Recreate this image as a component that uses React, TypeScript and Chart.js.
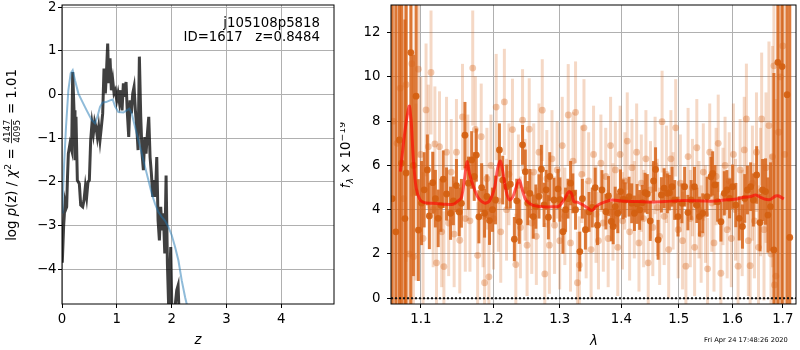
import React, { useEffect, useRef } from 'react';
import { Chart, registerables } from 'chart.js';

Chart.register(...registerables);

const FAM = '"DejaVu Sans", Verdana, sans-serif';
const FS = 13.3;
const SMALL = 9.3;

// ---------------- Left panel: log p(z) ----------------
const zTicks = [0, 1, 2, 3, 4];
const lnpTicks = [-4, -3, -2, -1, 0, 1, 2];

const zGrid = [
  0.005, 0.03, 0.055, 0.07, 0.085, 0.1, 0.116, 0.146, 0.176, 0.195,
  0.219, 0.237, 0.255, 0.28, 0.316, 0.341, 0.377, 0.401, 0.426, 0.45,
  0.474, 0.499, 0.523, 0.547, 0.572, 0.596, 0.62, 0.645, 0.669, 0.693,
  0.718, 0.742, 0.766, 0.791, 0.815, 0.833, 0.852, 0.876, 0.9, 0.925,
  0.949, 0.973, 0.998, 1.022, 1.046, 1.071, 1.095, 1.119, 1.144, 1.168,
  1.192, 1.217, 1.241, 1.265, 1.29, 1.314, 1.338, 1.363, 1.387, 1.411,
  1.436, 1.46, 1.484, 1.509, 1.533, 1.557, 1.582, 1.606, 1.63, 1.655,
  1.679, 1.703, 1.728, 1.752, 1.776, 1.8, 1.825, 1.849, 1.874, 1.898,
  1.922, 1.946, 1.983, 2.007, 2.062, 2.092, 2.117, 2.135, 2.2, 2.4,
];
const logPz = [
  -3.85, -3.0, -2.5, -2.62, -2.57, -1.9, -1.35, -1.12, -1.27, 0.52,
  -0.36, -1.5, -0.51, -1.96, -2.04, -2.53, -2.57, -2.42, -2.11, -2.34,
  -2.0, -1.96, -1.04, -0.66, -0.89, -0.62, -0.74, -0.97, -0.74, -1.04,
  -0.74, -0.43, 0.6, 0.03, 0.64, 1.17, 0.26, 0.83, 0.1, 0.33,
  0.03, 0.1, -0.13, 0.03, -0.17, 0.1, -0.36, 0.26, -0.05, 0.29,
  -0.43, -0.97, -0.13, -0.43, 0.03, 0.18, -0.36, -0.74, -1.27, 0.87,
  -0.51, -1.35, -1.73, -0.97, -1.35, -0.89, -0.51, -1.43, -1.81, -2.34,
  -1.96, -2.34, -1.43, -2.88, -3.34, -2.57, -3.11, -2.72, -3.64, -1.85,
  -3.87, -4.9, -3.49, -5.2, -4.85, -4.48, -4.37, -5.0, -6.5, -9.0,
];

const zSmooth = [
  0.0, 0.012, 0.036, 0.073, 0.116, 0.158, 0.195, 0.237, 0.298, 0.359,
  0.45, 0.541, 0.602, 0.645, 0.693, 0.742, 0.803, 0.876, 0.925, 0.967,
  1.028, 1.119, 1.18, 1.229, 1.271, 1.332, 1.393, 1.454, 1.515, 1.576,
  1.637, 1.697, 1.758, 1.819, 1.88, 1.94, 2.001, 2.062, 2.123, 2.184,
  2.245, 2.288, 2.4,
];
const logPzSmooth = [
  -2.7, -2.5, -1.66, -0.74, 0.1, 0.49, 0.56, 0.33, 0.03, -0.13,
  -0.36, -0.58, -0.66, -0.51, -0.28, -0.18, -0.17, -0.13, -0.11, -0.27,
  -0.4, -0.41, -0.36, -0.32, -0.43, -0.74, -1.04, -1.35, -1.66, -1.96,
  -2.27, -2.5, -2.69, -2.8, -2.89, -3.03, -3.22, -3.49, -3.8, -4.26,
  -4.64, -4.87, -5.9,
];

// ---------------- Right panel: spectrum ----------------
const waveTicks = [1.1, 1.2, 1.3, 1.4, 1.5, 1.6, 1.7];
const fluxTicks = [0, 2, 4, 6, 8, 10, 12];
const waveLimits = [1.0613, 1.7272];
const zeroLevel = [0, 0];

const darkWave = [
  1.0628, 1.0675, 1.072, 1.0747, 1.0792, 1.0808, 1.0869, 1.0903, 1.0938, 1.0968,
  1.101, 1.1045, 1.1087, 1.1114, 1.1159, 1.1195, 1.1233, 1.127, 1.1301, 1.1346,
  1.1401, 1.144, 1.1482, 1.152, 1.1551, 1.16, 1.1648, 1.1694, 1.173, 1.176,
  1.1796, 1.1835, 1.1877, 1.191, 1.1948, 1.199, 1.2034, 1.2091, 1.2139, 1.2197,
  1.2251, 1.231, 1.2345, 1.2383, 1.2432, 1.2473, 1.251, 1.2542, 1.2593, 1.2632,
  1.268, 1.2717, 1.2758, 1.279, 1.2824, 1.2845, 1.2911, 1.2973, 1.3004, 1.3051,
  1.3092, 1.313, 1.3171, 1.3207, 1.325, 1.3318, 1.336, 1.3408, 1.3466, 1.3519,
  1.3567, 1.3604, 1.3677, 1.3742, 1.3786, 1.3831, 1.3864, 1.3897, 1.3941, 1.3986,
  1.4031, 1.4064, 1.4131, 1.4176, 1.4222, 1.4267, 1.4312, 1.4358, 1.4405, 1.4444,
  1.4495, 1.4553, 1.4588, 1.4633, 1.4691, 1.4739, 1.4797, 1.4833, 1.488, 1.4928,
  1.4987, 1.5058, 1.5107, 1.5166, 1.5226, 1.5287, 1.533, 1.5379, 1.544, 1.552,
  1.5594, 1.5625, 1.5668, 1.5719, 1.5781, 1.5845, 1.5895, 1.5946, 1.6003, 1.6066,
  1.6131, 1.6195, 1.624, 1.6292, 1.6356, 1.6409, 1.6474, 1.654, 1.6592, 1.6651,
  1.6699, 1.6751, 1.6819, 1.6899, 1.6986, 1.7088, 1.7143,
];
const darkFlux = [
  4.5, 3.0, 7.15, 6.1, 3.6, 5.66, 11.1, 6.0, 9.13, 3.08,
  4.3, 4.9, 5.8, 3.72, 5.22, 4.5, 3.61, 4.2, 5.38, 4.71,
  3.84, 4.4, 5.09, 3.9, 4.29, 7.37, 5.2, 6.25, 5.5, 6.47,
  3.68, 5.0, 3.84, 4.6, 3.51, 4.0, 4.44, 6.7, 5.34, 5.04,
  5.15, 2.67, 4.4, 3.46, 6.93, 5.72, 4.3, 4.74, 3.69, 4.14,
  4.6, 5.83, 4.22, 4.9, 3.66, 5.5, 4.44, 4.94, 4.46, 3.01,
  4.0, 4.5, 5.2, 4.74, 4.0, 2.11, 4.5, 3.1, 3.9, 4.1,
  5.0, 3.3, 4.89, 3.91, 4.62, 3.47, 3.24, 4.14, 3.84, 4.82,
  4.47, 4.44, 4.59, 4.29, 3.84, 4.26, 3.99, 4.32, 4.77, 4.71,
  3.49, 5.3, 5.82, 2.64, 4.67, 4.97, 4.74, 4.77, 5.04, 4.44,
  3.69, 4.29, 5.04, 3.87, 4.44, 5.04, 4.2, 3.69, 3.84, 4.59,
  5.49, 5.64, 5.12, 4.36, 3.46, 4.74, 4.89, 4.51, 5.04, 4.21,
  3.61, 3.24, 4.51, 4.89, 5.04, 4.44, 5.57, 3.42, 4.89, 4.82,
  3.76, 4.14, 2.18, 10.66, 10.47, 9.2, 2.75,
];
const darkErr = [
  14, 14, 12, 10, 9, 9, 13, 5, 4.5, 2.3,
  1.9, 1.7, 1.6, 1.5, 1.4, 1.3, 1.3, 1.2, 1.3, 1.2,
  1.2, 1.1, 1.2, 1.1, 1.1, 1.5, 1.2, 1.3, 1.1, 1.2,
  1.2, 1.1, 1.1, 1.0, 1.1, 1.0, 1.1, 1.2, 1.1, 1.0,
  1.1, 1.0, 1.0, 1.0, 0.9, 1.0, 1.0, 1.1, 1.0, 1.0,
  1.0, 1.1, 1.0, 0.9, 1.0, 1.1, 1.0, 0.9, 1.0, 1.0,
  1.0, 0.9, 1.0, 0.9, 0.9, 0.9, 0.9, 0.9, 0.9, 0.9,
  0.9, 0.9, 0.9, 0.8, 0.9, 0.9, 0.8, 0.9, 0.9, 1.0,
  0.9, 0.8, 0.9, 0.9, 0.8, 0.9, 0.9, 0.8, 0.9, 0.9,
  0.9, 0.9, 1.0, 0.9, 0.8, 0.9, 0.9, 0.8, 0.9, 0.9,
  0.9, 0.9, 0.9, 0.8, 0.9, 0.9, 0.8, 0.9, 0.9, 0.9,
  0.9, 1.0, 0.9, 0.9, 0.9, 1.0, 0.9, 0.9, 1.0, 1.0,
  1.0, 1.0, 1.1, 1.1, 1.1, 1.2, 1.3, 1.3, 1.4, 1.5,
  1.7, 2.0, 8, 14, 12, 14, 14,
];

const lightWave = [
  1.064, 1.069, 1.0732, 1.0775, 1.0808, 1.085, 1.0882, 1.0903, 1.0935, 1.0968,
  1.1, 1.103, 1.107, 1.11, 1.1136, 1.1165, 1.1188, 1.121, 1.125, 1.128,
  1.131, 1.1346, 1.1375, 1.141, 1.145, 1.1482, 1.1528, 1.1566, 1.1605, 1.164,
  1.167, 1.1709, 1.1746, 1.1778, 1.1829, 1.1855, 1.1877, 1.191, 1.1939, 1.1968,
  1.2005, 1.2044, 1.2075, 1.211, 1.2163, 1.2195, 1.223, 1.2282, 1.2332, 1.237,
  1.24, 1.2432, 1.247, 1.25, 1.2532, 1.257, 1.26, 1.264, 1.268, 1.273,
  1.2769, 1.28, 1.284, 1.288, 1.292, 1.296, 1.3, 1.304, 1.308, 1.3134,
  1.317, 1.321, 1.325, 1.328, 1.331, 1.335, 1.3385, 1.342, 1.346, 1.35,
  1.354, 1.358, 1.362, 1.366, 1.37, 1.374, 1.378, 1.382, 1.386, 1.39,
  1.394, 1.398, 1.402, 1.406, 1.41, 1.414, 1.418, 1.422, 1.426, 1.43,
  1.434, 1.438, 1.442, 1.446, 1.45, 1.454, 1.458, 1.462, 1.466, 1.4703,
  1.474, 1.478, 1.482, 1.486, 1.49, 1.4946, 1.499, 1.503, 1.507, 1.513,
  1.517, 1.521, 1.525, 1.529, 1.533, 1.537, 1.541, 1.545, 1.549, 1.553,
  1.557, 1.561, 1.565, 1.569, 1.573, 1.578, 1.582, 1.586, 1.59, 1.594,
  1.598, 1.602, 1.606, 1.611, 1.615, 1.619, 1.623, 1.6272, 1.631, 1.6345,
  1.639, 1.643, 1.647, 1.651, 1.655, 1.6573, 1.662, 1.666, 1.6719, 1.676,
  1.679, 1.6819, 1.683, 1.686, 1.692, 1.695, 1.7, 1.704,
];
const lightFlux = [
  8.0, 7.0, 9.49, 4.5, 9.65, 2.0, 10.6, 1.88, 4.8, 10.35,
  6.5, 2.7, 8.51, 6.85, 10.2, 4.0, 6.97, 1.6, 6.85, 3.0,
  1.43, 6.6, 3.4, 5.7, 2.9, 6.6, 2.62, 8.19, 3.6, 5.9,
  3.5, 10.4, 7.63, 1.94, 7.3, 3.7, 0.7, 5.4, 0.97, 6.0,
  3.6, 8.64, 4.4, 3.0, 8.87, 4.0, 5.6, 7.62, 1.52, 5.1,
  3.2, 8.05, 4.9, 2.4, 7.64, 3.4, 5.7, 2.8, 6.6, 8.5,
  1.1, 5.4, 2.4, 6.3, 3.3, 5.8, 2.6, 6.9, 3.7, 8.28,
  2.5, 6.2, 8.4, 0.7, 1.5, 5.6, 7.7, 3.1, 5.3, 2.2,
  6.5, 3.8, 2.6, 6.1, 3.4, 5.5, 2.7, 6.9, 3.9, 5.8,
  2.3, 6.5, 3.5, 5.3, 7.1, 3.0, 5.9, 4.0, 6.6, 2.5,
  5.2, 3.6, 6.3, 1.6, 4.9, 3.2, 6.0, 4.1, 2.8, 7.98,
  3.7, 5.6, 2.2, 6.3, 4.4, 7.7, 3.1, 5.2, 2.6, 1.45,
  6.4, 3.6, 5.0, 2.3, 6.8, 4.0, 2.9, 5.7, 3.8, 1.33,
  6.6, 4.3, 2.5, 5.5, 7.0, 1.13, 4.6, 6.0, 3.1, 5.3,
  2.7, 6.5, 4.0, 1.45, 5.8, 3.4, 6.7, 8.1, 2.6, 1.47,
  5.2, 3.5, 6.6, 2.3, 4.8, 8.1, 3.1, 5.9, 7.8, 2.0,
  6.4, 10.5, 0.6, 1.0, 7.5, 10.0, 11.4, 6.5,
];
const lightErr = [
  14, 12, 10, 9, 8, 6, 6, 4, 4, 4,
  3.5, 3.0, 3.0, 2.8, 2.8, 2.6, 2.6, 2.6, 2.5, 2.5,
  2.5, 2.5, 2.4, 2.4, 2.4, 2.4, 2.4, 2.4, 2.4, 2.4,
  2.3, 2.6, 2.4, 2.4, 2.4, 2.3, 2.4, 2.3, 2.4, 2.3,
  2.3, 2.4, 2.3, 2.3, 2.4, 2.3, 2.3, 2.3, 2.3, 2.3,
  2.3, 2.3, 2.3, 2.3, 2.3, 2.3, 2.2, 2.2, 2.2, 2.3,
  2.3, 2.2, 2.2, 2.2, 2.2, 2.2, 2.2, 2.2, 2.2, 2.3,
  2.2, 2.2, 2.3, 2.3, 2.2, 2.2, 2.2, 2.2, 2.2, 2.2,
  2.2, 2.2, 2.2, 2.2, 2.2, 2.2, 2.2, 2.2, 2.2, 2.2,
  2.2, 2.2, 2.2, 2.2, 2.2, 2.2, 2.2, 2.2, 2.2, 2.2,
  2.2, 2.2, 2.2, 2.3, 2.2, 2.2, 2.2, 2.2, 2.2, 2.3,
  2.2, 2.2, 2.2, 2.2, 2.2, 2.2, 2.2, 2.2, 2.2, 2.3,
  2.2, 2.2, 2.2, 2.2, 2.2, 2.2, 2.2, 2.2, 2.2, 2.3,
  2.2, 2.2, 2.2, 2.2, 2.2, 2.3, 2.2, 2.2, 2.2, 2.2,
  2.2, 2.3, 2.3, 2.4, 2.3, 2.4, 2.4, 2.5, 2.5, 2.5,
  2.6, 2.6, 2.7, 2.8, 2.9, 3.0, 3.2, 3.4, 3.8, 4.5,
  5, 6, 7, 8, 10, 12, 14, 14,
];

const modelWave = [
  1.0733, 1.077, 1.081, 1.0835, 1.085, 1.0865, 1.0876, 1.0903, 1.0938, 1.0982,
  1.1034, 1.1166, 1.1301, 1.1436, 1.1505, 1.1551, 1.1596, 1.1629, 1.1666, 1.1713,
  1.1784, 1.1877, 1.1948, 1.202, 1.2067, 1.2105, 1.2139, 1.2188, 1.2236, 1.2285,
  1.2335, 1.2383, 1.2422, 1.2482, 1.2582, 1.2734, 1.2887, 1.2988, 1.3066, 1.3144,
  1.3186, 1.3223, 1.3276, 1.3353, 1.3435, 1.3515, 1.358, 1.3677, 1.3841, 1.3997,
  1.4288, 1.4518, 1.4751, 1.4987, 1.5226, 1.5471, 1.5656, 1.5845, 1.6035, 1.6228,
  1.6356, 1.6455, 1.6552, 1.6651, 1.6751, 1.6852, 1.6919, 1.702,
];
const modelFlux = [
  5.72, 6.9, 8.0, 8.5, 8.69, 8.3, 7.9, 6.25, 5.0, 4.5,
  4.33, 4.29, 4.25, 4.25, 4.4, 4.55, 5.45, 6.17, 5.6, 5.1,
  4.55, 4.3, 4.4, 5.0, 5.9, 6.2, 5.75, 4.85, 4.45, 4.57,
  5.0, 5.35, 4.97, 4.44, 4.21, 4.13, 4.13, 4.16, 4.44, 4.82,
  4.74, 4.36, 4.34, 4.24, 4.1, 3.96, 4.15, 4.3, 4.44, 4.39,
  4.37, 4.35, 4.37, 4.41, 4.41, 4.39, 4.39, 4.44, 4.47, 4.56,
  4.6, 4.66, 4.56, 4.47, 4.47, 4.62, 4.62, 4.48,
];

// ---------------- helpers ----------------
const fixAxis = (size: number, horiz: boolean) => (s: any) => {
  if (horiz) s.height = size;
  else s.width = size;
  s.paddingTop = 0;
  s.paddingBottom = 0;
  s.paddingLeft = 0;
  s.paddingRight = 0;
};
const setTicks = (values: number[]) => (s: any) => {
  s.ticks = values.map((v) => ({ value: v }));
};
const minusFmt = (v: any) => {
  const n = Number(v);
  return n < 0 ? '\u2212' + Math.abs(n) : String(n);
};

const gridOpts = { color: '#b0b0b0', lineWidth: 1, tickLength: 4, tickColor: '#000', tickWidth: 1 };
const tickFont = { family: FAM, size: FS };

type Piece = { t: string; size?: number; italic?: boolean; dy?: number; frac?: [string, string] };

function drawRich(ctx: CanvasRenderingContext2D, pieces: Piece[], x: number, y: number, rotated: boolean) {
  ctx.save();
  ctx.translate(x, y);
  if (rotated) ctx.rotate(-Math.PI / 2);
  ctx.fillStyle = '#000';
  ctx.textBaseline = 'alphabetic';
  ctx.textAlign = 'left';
  const fontOf = (p: Piece) => `${p.italic ? 'italic ' : ''}${p.size ?? FS}px ${FAM}`;
  const widths = pieces.map((p) => {
    if (p.frac) {
      ctx.font = `9px ${FAM}`;
      return Math.max(ctx.measureText(p.frac[0]).width, ctx.measureText(p.frac[1]).width) + 3;
    }
    ctx.font = fontOf(p);
    return ctx.measureText(p.t).width;
  });
  const total = widths.reduce((a, b) => a + b, 0);
  let cx = -total / 2;
  pieces.forEach((p, i) => {
    const w = widths[i];
    if (p.frac) {
      ctx.font = `9px ${FAM}`;
      ctx.textAlign = 'center';
      ctx.fillText(p.frac[0], cx + w / 2, -6);
      ctx.fillText(p.frac[1], cx + w / 2, 3.5);
      ctx.fillRect(cx + 1, -4.8, w - 2, 0.8);
      ctx.textAlign = 'left';
    } else {
      ctx.font = fontOf(p);
      ctx.fillText(p.t, cx, p.dy ?? 0);
    }
    cx += w;
  });
  ctx.restore();
}

const framePlugin = {
  id: 'frame',
  afterDatasetsDraw(chart: any) {
    const { ctx, chartArea: a } = chart;
    ctx.save();
    ctx.strokeStyle = '#000';
    ctx.lineWidth = 1;
    ctx.strokeRect(a.left, a.top, a.right - a.left, a.bottom - a.top);
    ctx.restore();
  },
};

const errorBarPlugin = {
  id: 'errbars',
  beforeDatasetDraw(chart: any, args: any) {
    const ds: any = chart.data.datasets[args.index];
    if (!ds.errors) return;
    const { ctx, chartArea: a, scales } = chart;
    const xs = scales.x;
    const ys = scales.y;
    ctx.save();
    ctx.beginPath();
    ctx.rect(a.left, a.top, a.right - a.left, a.bottom - a.top);
    ctx.clip();
    ctx.strokeStyle = ds.errorColor;
    ctx.lineWidth = ds.errorWidth;
    ctx.lineCap = 'butt';
    ds.data.forEach((p: any, i: number) => {
      const px = xs.getPixelForValue(p.x);
      const e = ds.errors[i];
      ctx.beginPath();
      ctx.moveTo(px, ys.getPixelForValue(p.y - e));
      ctx.lineTo(px, ys.getPixelForValue(p.y + e));
      ctx.stroke();
    });
    ctx.restore();
  },
};

const leftTextPlugin = {
  id: 'leftText',
  afterDraw(chart: any) {
    const ctx: CanvasRenderingContext2D = chart.ctx;
    ctx.save();
    ctx.fillStyle = '#000';
    ctx.font = `${FS}px ${FAM}`;
    ctx.textAlign = 'right';
    ctx.textBaseline = 'alphabetic';
    ctx.fillText('j105108p5818', 320, 26.5);
    ctx.fillText('ID=1617   z=0.8484', 320, 40.5);
    ctx.textAlign = 'center';
    ctx.font = `italic ${FS}px ${FAM}`;
    ctx.fillText('z', 198, 343.5);
    ctx.restore();
    drawRich(
      ctx,
      [
        { t: 'log ' },
        { t: 'p', italic: true },
        { t: '(z) / ' },
        { t: '\u03c7', italic: true },
        { t: '2', size: SMALL, dy: -5.5 },
        { t: ' = ' },
        { t: '', frac: ['4147', '4095'] },
        { t: ' = 1.01' },
      ],
      16,
      155,
      true,
    );
  },
};

const rightTextPlugin = {
  id: 'rightText',
  afterDraw(chart: any) {
    const ctx: CanvasRenderingContext2D = chart.ctx;
    ctx.save();
    ctx.fillStyle = '#000';
    ctx.textAlign = 'center';
    ctx.textBaseline = 'alphabetic';
    ctx.font = `italic ${FS}px ${FAM}`;
    ctx.fillText('\u03bb', 254, 345);
    ctx.font = `6.7px ${FAM}`;
    ctx.textAlign = 'right';
    ctx.fillText('Fri Apr 24 17:48:26 2020', 447.7, 342);
    ctx.restore();
    drawRich(
      ctx,
      [
        { t: 'f', italic: true },
        { t: '\u03bb', italic: true, size: SMALL, dy: 2.5 },
        { t: ' \u00d7 10' },
        { t: '\u221219', size: SMALL, dy: -5.5 },
      ],
      10,
      155,
      true,
    );
  },
};

function leftConfig(): any {
  return {
    type: 'scatter',
    data: {
      datasets: [
        {
          data: zSmooth.map((z, i) => ({ x: z, y: logPzSmooth[i] })),
          showLine: true,
          borderColor: 'rgba(31,119,180,0.5)',
          borderWidth: 2,
          pointRadius: 0,
          tension: 0,
        },
        {
          data: zGrid.map((z, i) => ({ x: z, y: logPz[i] })),
          showLine: true,
          borderColor: 'rgba(0,0,0,0.75)',
          borderWidth: 3,
          pointRadius: 0,
          tension: 0,
        },
      ],
    },
    options: {
      responsive: false,
      maintainAspectRatio: false,
      animation: false,
      events: [],
      layout: { padding: { top: 5, right: 6, left: 0, bottom: 0 } },
      plugins: { legend: { display: false }, tooltip: { enabled: false } },
      scales: {
        x: {
          type: 'linear',
          min: 0,
          max: 4.96,
          afterFit: fixAxis(46, true),
          afterBuildTicks: setTicks(zTicks),
          grid: gridOpts,
          border: { display: false },
          ticks: { font: tickFont, color: '#000', padding: 4, maxRotation: 0, autoSkip: false, callback: minusFmt },
        },
        y: {
          type: 'linear',
          min: -4.795,
          max: 2.053,
          afterFit: fixAxis(62, false),
          afterBuildTicks: setTicks(lnpTicks),
          grid: gridOpts,
          border: { display: false },
          ticks: { font: tickFont, color: '#000', padding: 1.5, autoSkip: false, callback: minusFmt },
        },
      },
    },
    plugins: [framePlugin, leftTextPlugin],
  };
}

function rightConfig(): any {
  return {
    type: 'scatter',
    data: {
      datasets: [
        {
          data: modelWave.map((w, i) => ({ x: w, y: modelFlux[i] })),
          showLine: true,
          borderColor: 'rgba(255,0,0,0.62)',
          borderWidth: 3,
          pointRadius: 0,
          tension: 0.3,
        },
        {
          data: waveLimits.map((w, i) => ({ x: w, y: zeroLevel[i] })),
          showLine: true,
          borderColor: '#111',
          borderWidth: 2,
          borderDash: [2, 2],
          pointRadius: 0,
        },
        {
          data: darkWave.map((w, i) => ({ x: w, y: darkFlux[i] })),
          pointRadius: 3.4,
          pointBorderWidth: 0,
          pointBackgroundColor: 'rgba(212,96,16,0.92)',
          errors: darkErr,
          errorColor: 'rgba(215,100,25,0.85)',
          errorWidth: 3,
        },
        {
          data: lightWave.map((w, i) => ({ x: w, y: lightFlux[i] })),
          pointRadius: 3.4,
          pointBorderWidth: 0,
          pointBackgroundColor: 'rgba(215,100,25,0.35)',
          errors: lightErr,
          errorColor: 'rgba(215,100,25,0.25)',
          errorWidth: 3,
        },
      ],
    },
    options: {
      responsive: false,
      maintainAspectRatio: false,
      animation: false,
      events: [],
      layout: { padding: { top: 5, right: 1, left: 0, bottom: 0 } },
      plugins: { legend: { display: false }, tooltip: { enabled: false } },
      scales: {
        x: {
          type: 'logarithmic',
          min: waveLimits[0],
          max: waveLimits[1],
          afterFit: fixAxis(46, true),
          afterBuildTicks: setTicks(waveTicks),
          grid: gridOpts,
          border: { display: false },
          ticks: {
            font: tickFont,
            color: '#000',
            padding: 4,
            maxRotation: 0,
            autoSkip: false,
            callback: (v: any) => Number(v).toFixed(1),
          },
        },
        y: {
          type: 'linear',
          min: -0.26,
          max: 13.25,
          afterFit: fixAxis(51, false),
          afterBuildTicks: setTicks(fluxTicks),
          grid: gridOpts,
          border: { display: false },
          ticks: { font: tickFont, color: '#000', padding: 6.5, autoSkip: false, callback: minusFmt },
        },
      },
    },
    plugins: [errorBarPlugin, framePlugin, rightTextPlugin],
  };
}

export default function App() {
  const leftRef = useRef<HTMLCanvasElement>(null);
  const rightRef = useRef<HTMLCanvasElement>(null);

  useEffect(() => {
    const charts: Chart[] = [];
    if (leftRef.current) charts.push(new Chart(leftRef.current, leftConfig()));
    if (rightRef.current) charts.push(new Chart(rightRef.current, rightConfig()));
    return () => charts.forEach((c) => c.destroy());
  }, []);

  return (
    <div style={{ position: 'fixed', left: 0, top: 0, width: 800, height: 350, background: '#fff' }}>
      <canvas
        ref={leftRef}
        width={340}
        height={350}
        style={{ position: 'absolute', left: 0, top: 0, width: 340, height: 350 }}
      />
      <canvas
        ref={rightRef}
        width={460}
        height={350}
        style={{ position: 'absolute', left: 340, top: 0, width: 460, height: 350 }}
      />
    </div>
  );
}
